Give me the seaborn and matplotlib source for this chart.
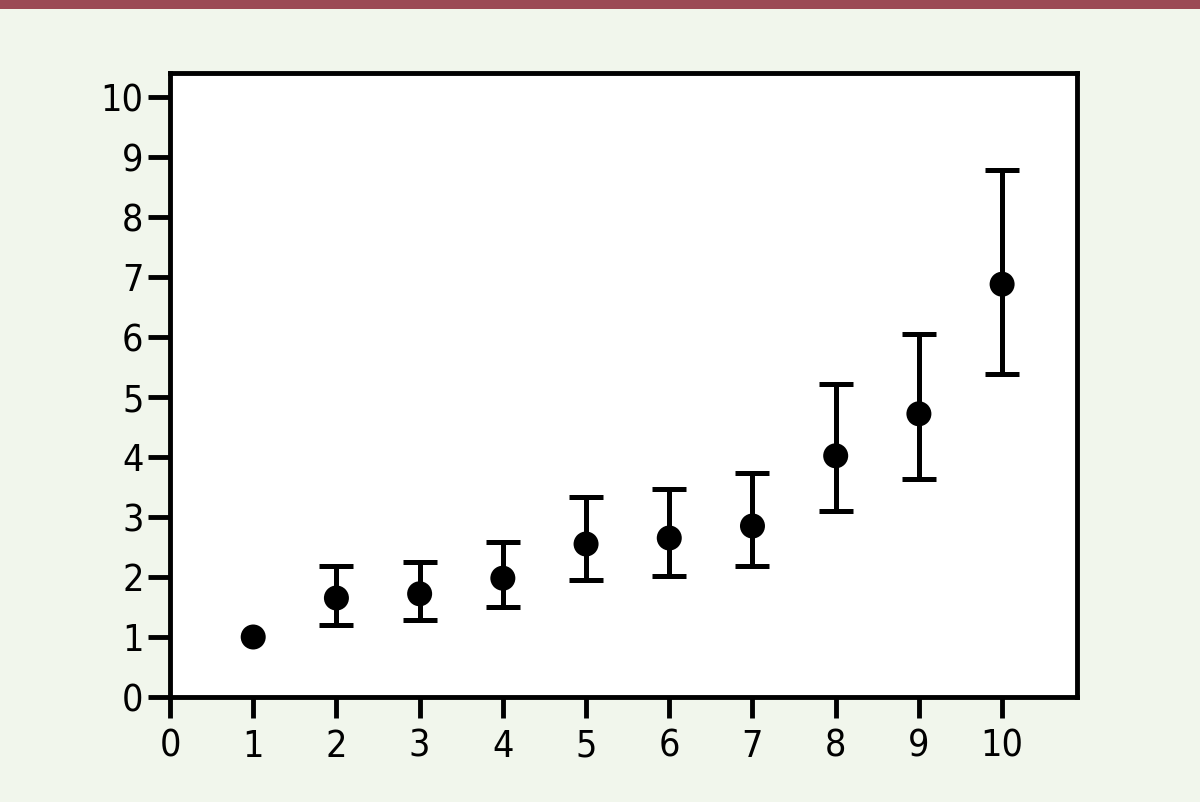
import matplotlib
matplotlib.use("Agg")
import matplotlib.pyplot as plt
from matplotlib.patches import Rectangle
import seaborn as sns
import pandas as pd

x_vals = [1, 2, 3, 4, 5, 6, 7, 8, 9, 10]
means = [1.0, 1.65, 1.72, 1.98, 2.55, 2.65, 2.85, 4.02, 4.72, 6.88]
upper = [1.0, 2.18, 2.25, 2.58, 3.33, 3.47, 3.73, 5.22, 6.05, 8.78]
lower = [1.0, 1.20, 1.28, 1.50, 1.95, 2.02, 2.18, 3.10, 3.63, 5.38]
x_ticks = [0, 1, 2, 3, 4, 5, 6, 7, 8, 9, 10]
y_ticks = [0, 1, 2, 3, 4, 5, 6, 7, 8, 9, 10]

sns.set_style("ticks")
plt.rcParams['font.family'] = ['DejaVu Sans']
plt.rcParams['font.stretch'] = 'condensed'

df = pd.DataFrame({"x": x_vals, "y": means, "lo": lower, "hi": upper})

fig = plt.figure(figsize=(12, 8.02), dpi=100, facecolor="#f1f6ec")
fig.patches.append(Rectangle((0, 1 - 9/802), 1, 9/802, transform=fig.transFigure,
                             facecolor="#9b4a55", edgecolor="none"))
ax = fig.add_axes([170/1200, 1 - 697/802, (1077-170)/1200, (697-73)/802])
ax.set_facecolor("white")

has_err = df[df["hi"] > df["lo"]]
ax.errorbar(has_err["x"], has_err["y"],
            yerr=[has_err["y"] - has_err["lo"], has_err["hi"] - has_err["y"]],
            fmt="none", ecolor="black", elinewidth=3.6, capsize=12, capthick=3.6, zorder=2)
sns.scatterplot(data=df, x="x", y="y", ax=ax, color="black", s=18**2,
                edgecolor="none", zorder=3, legend=False)

ax.set_xlim(0, 10.9)
ax.set_ylim(0, 10.4)
ax.set_xticks(x_ticks)
ax.set_yticks(y_ticks)
ax.set_xlabel("")
ax.set_ylabel("")
for s in ax.spines.values():
    s.set_linewidth(3.5)
    s.set_color("black")
ax.tick_params(axis="x", direction="out", length=15, width=3.5, pad=8, labelsize=27,
               colors="black")
ax.tick_params(axis="y", direction="out", length=16, width=3.5, pad=3, labelsize=27,
               colors="black")
for lab in ax.get_xticklabels() + ax.get_yticklabels():
    lab.set_fontstretch('condensed')
    lab.set_fontweight('light')

fig.savefig("out.png", dpi=100, facecolor=fig.get_facecolor())
